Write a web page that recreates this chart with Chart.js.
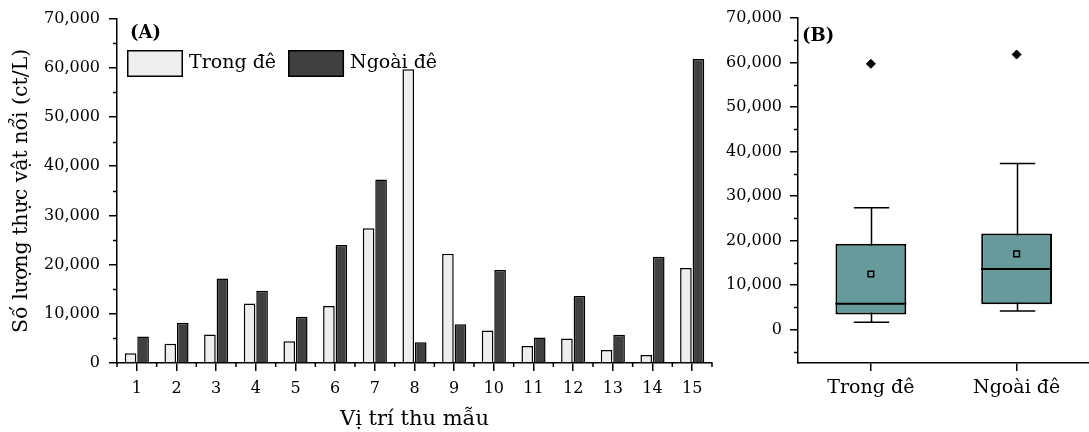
<!DOCTYPE html>
<html><head><meta charset="utf-8">
<script src="https://cdn.jsdelivr.net/npm/chart.js@4.4.1/dist/chart.umd.min.js"></script>
<style>
html,body{margin:0;padding:0;background:#fff;overflow:hidden;width:1089px;height:432px;}
#wrap{position:relative;width:1089px;height:432px;overflow:hidden;}
canvas{position:absolute;top:0;}
#cA{left:0;}
#cB{left:715px;}
</style></head><body><div id="wrap">
<canvas id="cA" width="730" height="432"></canvas>
<canvas id="cB" width="380" height="432"></canvas>
</div>
<script>
// ---- data ----
const sites = ['1','2','3','4','5','6','7','8','9','10','11','12','13','14','15'];
const seriesNames = ['Trong đê', 'Ngoài đê'];
const trongDe = [2000, 3900, 5800, 12100, 4400, 11600, 27400, 59700, 22200, 6600, 3450, 5000, 2650, 1650, 19300];
const ngoaiDe = [5400, 8200, 17200, 14700, 9400, 24000, 37300, 4200, 7900, 18900, 5200, 13600, 5750, 21600, 61800];
const yTicksA = [0, 10000, 20000, 30000, 40000, 50000, 60000, 70000];
const yMinorA = [5000, 15000, 25000, 35000, 45000, 55000, 65000];
const yTicksB = [0, 10000, 20000, 30000, 40000, 50000, 60000, 70000];
const yMinorB = [-5000, 5000, 15000, 25000, 35000, 45000, 55000, 65000];
const boxLabels = ['Trong đê', 'Ngoài đê'];
const boxMin = [1650, 4200];
const boxQ1 = [3400, 5700];
const boxMedian = [5800, 13600];
const boxQ3 = [19300, 21600];
const boxMax = [27400, 37300];
const boxMean = [12500, 17000];
const boxOutlier = [59700, 61800];
const xTitleA = 'Vị trí thu mẫu';
const yTitleA = 'Số lượng thực vật nổi (ct/L)';

const FONT = "'DejaVu Serif', serif";
Chart.defaults.font.family = FONT;
Chart.defaults.color = '#000';
Chart.defaults.animation = false;

const LIGHT = '#eeeeee', DARK = '#404040', TEAL = '#679b9b';
const fmt = v => Number(v).toLocaleString('en-US');

const minorTicks = {
  id: 'minorTicks',
  afterDraw(chart, args, opts) {
    const ctx = chart.ctx, x = chart.scales.x, y = chart.scales.y;
    ctx.save();
    ctx.strokeStyle = '#000'; ctx.lineWidth = 1.5;
    ctx.beginPath();
    (opts.yMinor || []).forEach(v => {
      const py = Math.round(y.getPixelForValue(v)) + 0.5;
      ctx.moveTo(y.right - 4, py); ctx.lineTo(y.right, py);
    });
    if (opts.xBounds) {
      for (let i = 0; i <= x.getLabels().length; i++) {
        const px = x.getPixelForValue(i - 0.5);
        ctx.moveTo(px, x.top); ctx.lineTo(px, x.top + 4);
      }
    }
    ctx.stroke();
    ctx.restore();
  }
};

const panelText = {
  id: 'panelText',
  afterDraw(chart, args, opts) {
    const ctx = chart.ctx, ca = chart.chartArea;
    ctx.save();
    ctx.fillStyle = '#000';
    ctx.font = 'bold 18px ' + FONT;
    ctx.textBaseline = 'middle'; ctx.textAlign = 'left';
    ctx.fillText(opts.label, ca.left + opts.dx, opts.y);
    if (opts.legend) {
      ctx.font = '19px ' + FONT;
      let xx = ca.left + 10;
      const top = 50, bw = 56, bh = 27;
      chart.data.datasets.forEach(ds => {
        ctx.fillStyle = ds.backgroundColor;
        ctx.fillRect(xx, top, bw, bh);
        ctx.strokeStyle = '#000'; ctx.lineWidth = 1.5;
        ctx.strokeRect(xx + 0.75, top + 0.75, bw - 1.5, bh - 1.5);
        ctx.fillStyle = '#000';
        ctx.fillText(ds.label, xx + bw + 6, top + bh / 2);
        xx += bw + 6 + ctx.measureText(ds.label).width + 12;
      });
    }
    ctx.restore();
  }
};

const axisGrid = {display: true, drawOnChartArea: false, drawTicks: true, tickLength: 8, color: '#000', lineWidth: 1.5, offset: false};
const axisBorder = {display: true, color: '#000', width: 1.5};

new Chart(document.getElementById('cA'), {
  type: 'bar',
  data: {
    labels: sites,
    datasets: [
      {label: seriesNames[0], data: trongDe, backgroundColor: LIGHT, borderColor: '#000', borderWidth: 1.5, categoryPercentage: 0.63, barPercentage: 0.93},
      {label: seriesNames[1], data: ngoaiDe, backgroundColor: DARK, borderColor: '#000', borderWidth: 1.5, categoryPercentage: 0.63, barPercentage: 0.93}
    ]
  },
  options: {
    responsive: false,
    devicePixelRatio: 1,
    layout: {padding: {top: 18, right: 18, left: 0, bottom: 0}},
    plugins: {
      legend: {display: false},
      tooltip: {enabled: false},
      minorTicks: {yMinor: yMinorA, xBounds: true},
      panelText: {label: '(A)', dx: 13, y: 33, legend: true}
    },
    scales: {
      x: {
        type: 'category', offset: true,
        grid: axisGrid, border: axisBorder,
        ticks: {color: '#000', font: {size: 16}, padding: 8, maxRotation: 0, autoSkip: false},
        title: {display: true, text: xTitleA, color: '#000', font: {size: 21}, padding: {top: 0, bottom: 0}},
        afterFit(s) { s.height = 69; }
      },
      y: {
        min: 0, max: 70000,
        afterBuildTicks(s) { s.ticks = yTicksA.map(v => ({value: v})); },
        grid: axisGrid, border: axisBorder,
        ticks: {color: '#000', font: {size: 16}, padding: 9, callback: v => fmt(v)},
        title: {display: true, text: yTitleA, color: '#000', font: {size: 20.5}, padding: {top: 9, bottom: 0}},
        afterFit(s) { s.width = 117; }
      }
    }
  },
  plugins: [minorTicks, panelText]
});

const boxParts = {
  id: 'boxParts',
  beforeDatasetsDraw(chart) {
    const ctx = chart.ctx, x = chart.scales.x, y = chart.scales.y;
    const meta = chart.getDatasetMeta(0);
    ctx.save();
    ctx.strokeStyle = '#000'; ctx.lineWidth = 1.5;
    ctx.beginPath();
    boxLabels.forEach((l, i) => {
      const px = Math.round(x.getPixelForValue(i)) + 0.5;
      const half = meta.data[i].width / 4;
      ctx.moveTo(px, y.getPixelForValue(boxMin[i]));
      ctx.lineTo(px, y.getPixelForValue(boxMax[i]));
      [boxMin[i], boxMax[i]].forEach(v => {
        const py = y.getPixelForValue(v);
        ctx.moveTo(px - half, py); ctx.lineTo(px + half, py);
      });
    });
    ctx.stroke();
    ctx.restore();
  },
  afterDatasetsDraw(chart) {
    const ctx = chart.ctx, x = chart.scales.x, y = chart.scales.y;
    const meta = chart.getDatasetMeta(0);
    ctx.save();
    ctx.strokeStyle = '#000'; ctx.lineWidth = 2;
    ctx.beginPath();
    boxLabels.forEach((l, i) => {
      const px = x.getPixelForValue(i);
      const half = meta.data[i].width / 2;
      const py = y.getPixelForValue(boxMedian[i]);
      ctx.moveTo(px - half, py); ctx.lineTo(px + half, py);
    });
    ctx.stroke();
    ctx.restore();
  }
};

new Chart(document.getElementById('cB'), {
  type: 'bar',
  data: {
    labels: boxLabels,
    datasets: [
      {type: 'bar', label: 'box', data: boxQ1.map((q, i) => [q, boxQ3[i]]), backgroundColor: TEAL, borderColor: '#000', borderWidth: 2, borderSkipped: false, categoryPercentage: 1, barPercentage: 0.486, order: 2},
      {type: 'line', label: 'mean', data: boxMean, showLine: false, pointStyle: 'rect', pointRadius: 4, pointBackgroundColor: TEAL, pointBorderColor: '#000', pointBorderWidth: 1.5, order: 1},
      {type: 'line', label: 'outlier', data: boxOutlier, showLine: false, pointStyle: 'rectRot', pointRadius: 4.5, pointBackgroundColor: '#000', pointBorderColor: '#000', pointBorderWidth: 1, order: 0}
    ]
  },
  options: {
    responsive: false,
    devicePixelRatio: 1,
    layout: {padding: {top: 18, right: 1, left: 0, bottom: 0}},
    plugins: {
      legend: {display: false},
      tooltip: {enabled: false},
      minorTicks: {yMinor: yMinorB, xBounds: false},
      panelText: {label: '(B)', dx: 4, y: 36, legend: false}
    },
    scales: {
      x: {
        type: 'category', offset: true,
        grid: axisGrid, border: axisBorder,
        ticks: {color: '#000', font: {size: 19}, padding: 6, maxRotation: 0, autoSkip: false},
        afterFit(s) { s.height = 69; }
      },
      y: {
        min: -7500, max: 70000,
        afterBuildTicks(s) { s.ticks = yTicksB.map(v => ({value: v})); },
        grid: axisGrid, border: axisBorder,
        ticks: {color: '#000', font: {size: 16}, padding: 8, callback: v => fmt(v)},
        afterFit(s) { s.width = 83; }
      }
    }
  },
  plugins: [minorTicks, panelText, boxParts]
});
</script>
</div></body></html>
